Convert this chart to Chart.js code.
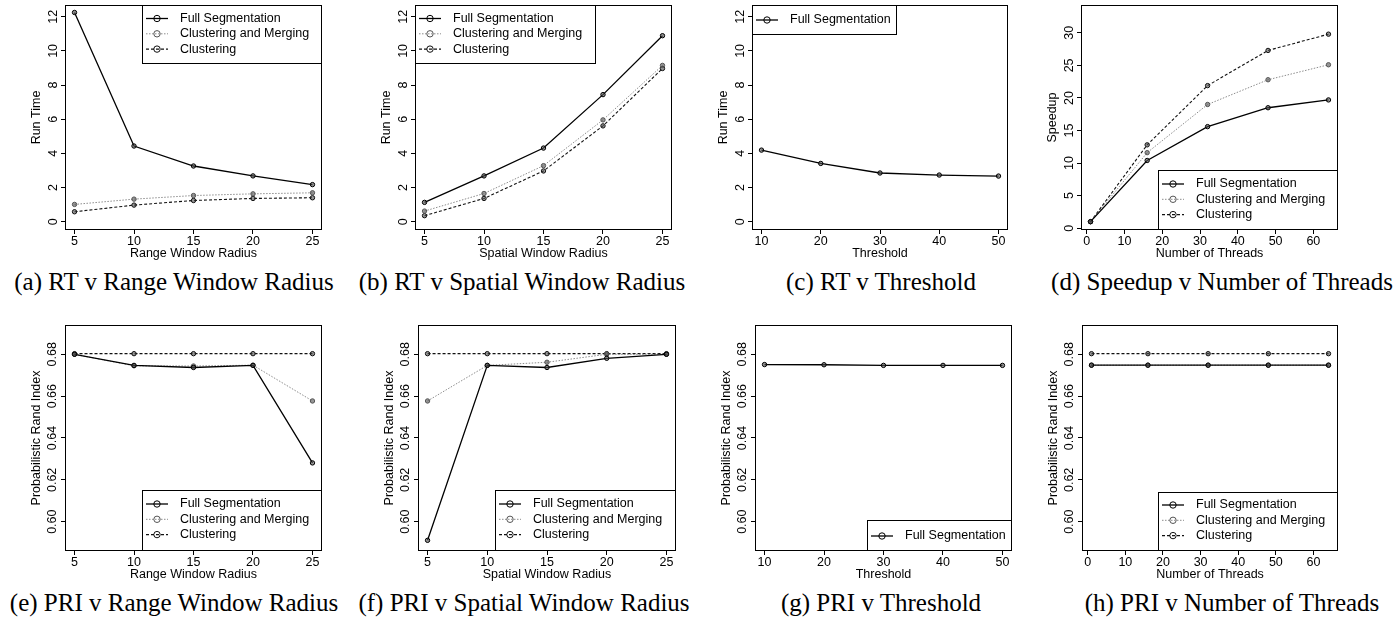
<!DOCTYPE html>
<html>
<head>
<meta charset="utf-8">
<script src="https://cdn.jsdelivr.net/npm/chart.js@4.4.1/dist/chart.umd.min.js"></script>
<style>
  body { margin: 0; background: #fff; width: 1393px; height: 623px; position: relative; overflow: hidden; }
  canvas { position: absolute; }
  .legenda { position: absolute; font-family: 'Liberation Serif', 'Times New Roman', serif; font-size: 25px;
             line-height: 25px; white-space: nowrap; transform: translateX(-50%); color: #000; }
</style>
</head>
<body>
<script>
// valores de x
const xRadius = [5, 10, 15, 20, 25];
const xThreshold = [10, 20, 30, 40, 50];
const xThreads = [1, 16, 32, 48, 64];

// ticks
const ticksRT = [0, 2, 4, 6, 8, 10, 12];
const ticksSpeedup = [0, 5, 10, 15, 20, 25, 30];
const ticksPRI = [0.60, 0.62, 0.64, 0.66, 0.68];
const ticksThreads = [0, 10, 20, 30, 40, 50, 60];

// (a) RT v Range Window Radius
const rtRangeFull = [12.25, 4.43, 3.26, 2.68, 2.17];
const rtRangeMerge = [1.01, 1.32, 1.53, 1.63, 1.69];
const rtRangeClust = [0.58, 0.97, 1.24, 1.36, 1.40];

// (b) RT v Spatial Window Radius
const rtSpatialFull = [1.13, 2.68, 4.31, 7.44, 10.89];
const rtSpatialMerge = [0.62, 1.65, 3.28, 5.96, 9.15];
const rtSpatialClust = [0.35, 1.36, 2.97, 5.61, 8.97];

// (c) RT v Threshold
const rtThreshFull = [4.19, 3.41, 2.85, 2.73, 2.67];

// (d) Speedup v Number of Threads
const speedupFull = [1, 10.4, 15.6, 18.5, 19.7];
const speedupMerge = [1, 11.6, 19.0, 22.8, 25.1];
const speedupClust = [1, 12.8, 21.9, 27.3, 29.8];

// (e) PRI v Range Window Radius
const priRangeFull = [0.6800, 0.6747, 0.6737, 0.6747, 0.6281];
const priRangeMerge = [0.6800, 0.6745, 0.6744, 0.6748, 0.6577];
const priRangeClust = [0.6803, 0.6803, 0.6803, 0.6803, 0.6803];

// (f) PRI v Spatial Window Radius
const priSpatialFull = [0.5911, 0.6747, 0.6737, 0.6781, 0.6800];
const priSpatialMerge = [0.6577, 0.6747, 0.6762, 0.6800, 0.6800];
const priSpatialClust = [0.6803, 0.6803, 0.6803, 0.6803, 0.6803];

// (g) PRI v Threshold
const priThreshFull = [0.6751, 0.6750, 0.6747, 0.6747, 0.6747];

// (h) PRI v Number of Threads
const priThreadsFull = [0.6748, 0.6748, 0.6748, 0.6748, 0.6748];
const priThreadsMerge = [0.6748, 0.6748, 0.6748, 0.6748, 0.6748];
const priThreadsClust = [0.6803, 0.6803, 0.6803, 0.6803, 0.6803];

const fonte = "'Liberation Sans', Arial, Helvetica, sans-serif";

const nomes = { full: 'Full Segmentation', merge: 'Clustering and Merging', clust: 'Clustering' };
const estilos = {
  full:  { borderColor: '#000', borderWidth: 1.3, borderDash: [], pointBorderColor: '#000' },
  merge: { borderColor: '#8c8c8c', borderWidth: 1, borderDash: [1.5, 1.5], pointBorderColor: '#555' },
  clust: { borderColor: '#111', borderWidth: 1.1, borderDash: [3, 2], pointBorderColor: '#111' }
};

// moldura em volta da area do grafico (estilo R)
const moldura = {
  id: 'moldura',
  afterDraw(chart) {
    const a = chart.chartArea, ctx = chart.ctx;
    ctx.save();
    ctx.strokeStyle = '#000';
    ctx.lineWidth = 1;
    ctx.strokeRect(a.left + 0.5, a.top + 0.5, a.right - a.left - 1, a.bottom - a.top - 1);
    ctx.restore();
  }
};

// caixa de legenda dentro do grafico
const caixaR = {
  id: 'caixaR',
  afterDatasetsDraw(chart, args, opts) {
    if (!opts || !opts.w) return;
    const a = chart.chartArea, ctx = chart.ctx;
    const bx = Math.round(opts.right ? a.right - opts.w : a.left);
    const by = Math.round(opts.bottom ? a.bottom - opts.h : a.top);
    ctx.save();
    ctx.fillStyle = '#fff';
    ctx.fillRect(bx, by, opts.w, opts.h);
    ctx.strokeStyle = '#000';
    ctx.lineWidth = 1;
    ctx.strokeRect(bx + 0.5, by + 0.5, opts.w - 1, opts.h - 1);
    chart.data.datasets.forEach((ds, i) => {
      const yy = by + opts.first + i * 15.3;
      ctx.strokeStyle = ds.borderColor;
      ctx.lineWidth = ds.borderWidth;
      ctx.setLineDash(ds.borderDash || []);
      ctx.beginPath(); ctx.moveTo(bx + 4, yy); ctx.lineTo(bx + 26, yy); ctx.stroke();
      ctx.setLineDash([]);
      ctx.lineWidth = 1;
      ctx.strokeStyle = ds.pointBorderColor;
      ctx.beginPath(); ctx.arc(bx + 15, yy, 3.2, 0, Math.PI * 2); ctx.stroke();
      ctx.fillStyle = '#000';
      ctx.font = '12.5px ' + fonte;
      ctx.textBaseline = 'middle';
      ctx.textAlign = 'left';
      ctx.fillText(ds.label, bx + 38, yy);
    });
    ctx.restore();
  }
};

function criarPainel(p) {
  const f = p.frame; // [esq, topo, dir, base]
  const cv = document.createElement('canvas');
  cv.width = (f[2] - f[0]) + 75;
  cv.height = (f[3] - f[1]) + 42;
  cv.style.left = (f[0] - 65) + 'px';
  cv.style.top = (f[1] - 4) + 'px';
  document.body.appendChild(cv);

  const datasets = p.series.map(s => Object.assign({
    label: nomes[s.key],
    data: p.x.map((x, i) => ({ x: x, y: s.values[i] })),
    pointRadius: 2.2,
    pointBorderWidth: 1,
    pointBackgroundColor: 'rgba(80,80,80,0.6)',
    fill: false,
    tension: 0
  }, estilos[s.key]));

  const grade = { drawOnChartArea: false, drawTicks: true, tickLength: 4, color: '#000', lineWidth: 1 };
  const fonteEixo = { family: fonte, size: 12.5 };

  new Chart(cv.getContext('2d'), {
    type: 'line',
    data: { datasets: datasets },
    options: {
      responsive: false,
      animation: false,
      events: [],
      layout: { padding: { left: 0, top: 4, right: 10, bottom: 0 } },
      plugins: {
        legend: { display: false },
        tooltip: { enabled: false },
        caixaR: p.legend
      },
      scales: {
        x: {
          type: 'linear',
          min: p.xr[0],
          max: p.xr[1],
          afterBuildTicks: s => { s.ticks = p.xTicks.map(v => ({ value: v })); },
          afterFit: s => { s.height = 38; s.paddingLeft = 0; s.paddingRight = 0; },
          grid: grade,
          border: { display: false },
          ticks: { color: '#000', font: fonteEixo, padding: 0, minRotation: 0, maxRotation: 0, autoSkip: false },
          title: { display: true, text: p.xTitle, color: '#000', font: fonteEixo, padding: { top: 0, bottom: 6.5 } }
        },
        y: {
          type: 'linear',
          min: p.yr[0],
          max: p.yr[1],
          afterBuildTicks: s => { s.ticks = p.yTicks.map(v => ({ value: v })); },
          afterFit: s => { s.width = 65; s.paddingTop = 0; s.paddingBottom = 0; },
          grid: grade,
          border: { display: false },
          ticks: {
            color: '#000', font: fonteEixo, minRotation: 90, maxRotation: 90, crossAlign: 'center',
            padding: p.yPad, autoSkip: false,
            callback: v => Number(v).toFixed(p.yDec)
          },
          title: { display: true, text: p.yTitle, color: '#000', font: fonteEixo, padding: { top: 29.5, bottom: 0 } }
        }
      }
    },
    plugins: [caixaR, moldura]
  });
}

function legenda(texto, cx, base) {
  const d = document.createElement('div');
  d.className = 'legenda';
  d.textContent = texto;
  d.style.left = cx + 'px';
  d.style.top = (base - 21) + 'px';
  document.body.appendChild(d);
}

const rtRange = [-0.488, 12.688];
const priRange = [0.586, 0.694];
const xrRadius = [4.2, 25.8];
const xrThreshold = [8.4, 51.6];
const xrThreads = [-1.52, 66.52];

criarPainel({
  frame: [65, 4, 322, 230], x: xRadius, xr: xrRadius, xTicks: xRadius,
  yr: rtRange, yTicks: ticksRT, yDec: 0, yPad: 1,
  xTitle: 'Range Window Radius', yTitle: 'Run Time',
  series: [{ key: 'full', values: rtRangeFull }, { key: 'merge', values: rtRangeMerge }, { key: 'clust', values: rtRangeClust }],
  legend: { right: true, bottom: false, w: 180, h: 59, first: 13.5 }
});
criarPainel({
  frame: [415, 4, 672, 230], x: xRadius, xr: xrRadius, xTicks: xRadius,
  yr: rtRange, yTicks: ticksRT, yDec: 0, yPad: 1,
  xTitle: 'Spatial Window Radius', yTitle: 'Run Time',
  series: [{ key: 'full', values: rtSpatialFull }, { key: 'merge', values: rtSpatialMerge }, { key: 'clust', values: rtSpatialClust }],
  legend: { right: false, bottom: false, w: 181, h: 59, first: 13.5 }
});
criarPainel({
  frame: [752, 4, 1008, 230], x: xThreshold, xr: xrThreshold, xTicks: xThreshold,
  yr: rtRange, yTicks: ticksRT, yDec: 0, yPad: 1,
  xTitle: 'Threshold', yTitle: 'Run Time',
  series: [{ key: 'full', values: rtThreshFull }],
  legend: { right: false, bottom: false, w: 145, h: 30, first: 15 }
});
criarPainel({
  frame: [1081, 4, 1338, 230], x: xThreads, xr: xrThreads, xTicks: ticksThreads,
  yr: [-0.28, 34.28], yTicks: ticksSpeedup, yDec: 0, yPad: 1,
  xTitle: 'Number of Threads', yTitle: 'Speedup',
  series: [{ key: 'full', values: speedupFull }, { key: 'merge', values: speedupMerge }, { key: 'clust', values: speedupClust }],
  legend: { right: true, bottom: true, w: 180, h: 60, first: 14 }
});

criarPainel({
  frame: [65, 324, 322, 551], x: xRadius, xr: xrRadius, xTicks: xRadius,
  yr: priRange, yTicks: ticksPRI, yDec: 2, yPad: -4,
  xTitle: 'Range Window Radius', yTitle: 'Probabilistic Rand Index',
  series: [{ key: 'full', values: priRangeFull }, { key: 'merge', values: priRangeMerge }, { key: 'clust', values: priRangeClust }],
  legend: { right: true, bottom: true, w: 180, h: 61, first: 14 }
});
criarPainel({
  frame: [418, 324, 676, 551], x: xRadius, xr: xrRadius, xTicks: xRadius,
  yr: priRange, yTicks: ticksPRI, yDec: 2, yPad: -4,
  xTitle: 'Spatial Window Radius', yTitle: 'Probabilistic Rand Index',
  series: [{ key: 'full', values: priSpatialFull }, { key: 'merge', values: priSpatialMerge }, { key: 'clust', values: priSpatialClust }],
  legend: { right: true, bottom: true, w: 181, h: 61, first: 14 }
});
criarPainel({
  frame: [755, 324, 1012, 551], x: xThreshold, xr: xrThreshold, xTicks: xThreshold,
  yr: priRange, yTicks: ticksPRI, yDec: 2, yPad: -4,
  xTitle: 'Threshold', yTitle: 'Probabilistic Rand Index',
  series: [{ key: 'full', values: priThreshFull }],
  legend: { right: true, bottom: true, w: 145, h: 31, first: 16 }
});
criarPainel({
  frame: [1082, 324, 1338, 551], x: xThreads, xr: xrThreads, xTicks: ticksThreads,
  yr: priRange, yTicks: ticksPRI, yDec: 2, yPad: -4,
  xTitle: 'Number of Threads', yTitle: 'Probabilistic Rand Index',
  series: [{ key: 'full', values: priThreadsFull }, { key: 'merge', values: priThreadsMerge }, { key: 'clust', values: priThreadsClust }],
  legend: { right: true, bottom: true, w: 180, h: 59, first: 13 }
});

legenda('(a) RT v Range Window Radius', 174, 290);
legenda('(b) RT v Spatial Window Radius', 522, 290);
legenda('(c) RT v Threshold', 881, 290);
legenda('(d) Speedup v Number of Threads', 1222, 290);
legenda('(e) PRI v Range Window Radius', 174, 611);
legenda('(f) PRI v Spatial Window Radius', 524, 611);
legenda('(g) PRI v Threshold', 881, 611);
legenda('(h) PRI v Number of Threads', 1232, 611);
</script>
</body>
</html>
